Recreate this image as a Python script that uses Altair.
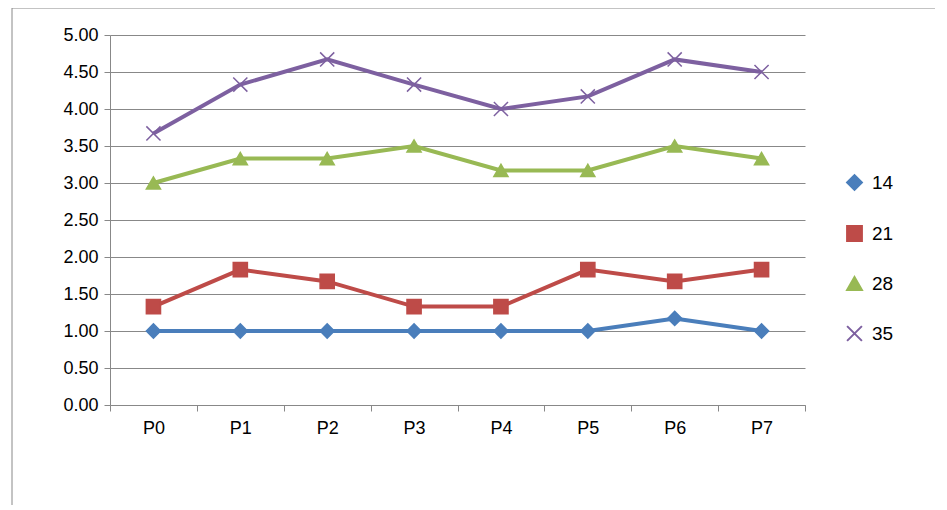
import pandas as pd
import altair as alt

cats = ['P0', 'P1', 'P2', 'P3', 'P4', 'P5', 'P6', 'P7']
s14 = [1.00, 1.00, 1.00, 1.00, 1.00, 1.00, 1.17, 1.00]
s21 = [1.33, 1.83, 1.67, 1.33, 1.33, 1.83, 1.67, 1.83]
s28 = [3.00, 3.33, 3.33, 3.50, 3.17, 3.17, 3.50, 3.33]
s35 = [3.67, 4.33, 4.67, 4.33, 4.00, 4.17, 4.67, 4.50]
names = ['14', '21', '28', '35']
colors = ['#4A7EBB', '#BE4B48', '#98B954', '#7D60A0']
shapes = ['diamond', 'square', 'triangle-up', 'M-1,-1L1,1M1,-1L-1,1']

rows = []
for name, vals in zip(names, [s14, s21, s28, s35]):
    for c, v in zip(cats, vals):
        rows.append({'cat': c, 'series': name, 'value': v})
df = pd.DataFrame(rows)

x = alt.X('cat:N', sort=cats, title=None,
          scale=alt.Scale(type='band', paddingInner=0, paddingOuter=0),
          axis=alt.Axis(labelAngle=0, tickBand='extent', domainColor='#888888',
                        tickColor='#888888', tickSize=6, labelPadding=8))
y = alt.Y('value:Q', title=None, scale=alt.Scale(domain=[0, 5]),
          axis=alt.Axis(values=[i * 0.5 for i in range(11)], format='.2f',
                        gridColor='#888888', domainColor='#888888', tickColor='#888888',
                        tickSize=6, labelPadding=6))
color = alt.Color('series:N', scale=alt.Scale(domain=names, range=colors),
                  legend=alt.Legend(title=None, orient='none', legendX=735, legendY=138,
                                    symbolSize=220, symbolStrokeWidth=2,
                                    labelFontSize=19, rowPadding=28, labelOffset=8))
shape = alt.Shape('series:N', scale=alt.Scale(domain=names, range=shapes), legend=None)

base = alt.Chart(df)
lines = base.mark_line(strokeWidth=4).encode(x=x, y=y, color=color)
points = base.mark_point(filled=True, size=200, strokeWidth=1.5, opacity=1).encode(
    x=x, y=y, color=color, shape=shape, stroke=alt.Stroke('series:N', scale=alt.Scale(domain=names, range=colors), legend=None))

frame = alt.Chart(pd.DataFrame({'a': [0]})).mark_rule(color='#888888').encode(
    x=alt.value(-98), y=alt.value(-27), y2=alt.value(480))
top = alt.Chart(pd.DataFrame({'a': [0]})).mark_rule(color='#888888').encode(
    x=alt.value(-98), x2=alt.value(830), y=alt.value(-27))

chart = alt.layer(lines, points, frame, top).properties(
    width=695, height=370, autosize='none',
    padding={'left': 102, 'top': 27, 'right': 130, 'bottom': 100}
).configure_view(stroke=None).configure_axis(
    labelFont='Liberation Sans', labelFontSize=18, labelColor='black', grid=False
).configure_axisY(grid=True).configure_legend(labelFont='Liberation Sans', labelColor='black')

chart.save('out.html', embed_options={'renderer': 'svg', 'actions': False})
